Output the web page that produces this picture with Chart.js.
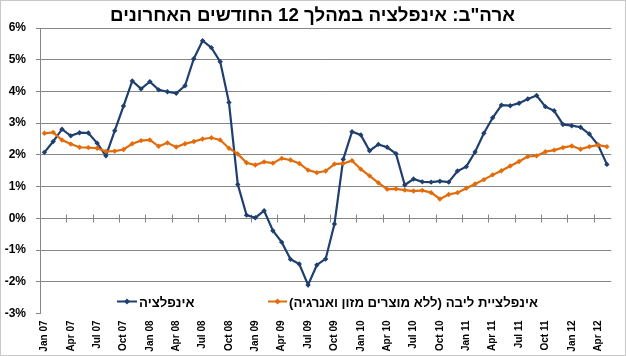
<!DOCTYPE html>
<html><head><meta charset="utf-8">
<script src="https://cdn.jsdelivr.net/npm/chart.js@4/dist/chart.umd.min.js"></script>
<style>html,body{margin:0;padding:0;background:#fff}#wrap{width:626px;height:356px}</style>
</head><body><div id="wrap"><canvas id="c" width="626" height="356"></canvas></div>
<script>
const titleText = 'ארה"ב: אינפלציה במהלך 12 החודשים האחרונים';
const headlineLabel = 'אינפלציה';
const coreLabel = 'אינפלציית ליבה (ללא מוצרים מזון ואנרגיה)';

const months = [
 'Jan 07','Feb 07','Mar 07','Apr 07','May 07','Jun 07','Jul 07','Aug 07','Sep 07','Oct 07','Nov 07','Dec 07',
 'Jan 08','Feb 08','Mar 08','Apr 08','May 08','Jun 08','Jul 08','Aug 08','Sep 08','Oct 08','Nov 08','Dec 08',
 'Jan 09','Feb 09','Mar 09','Apr 09','May 09','Jun 09','Jul 09','Aug 09','Sep 09','Oct 09','Nov 09','Dec 09',
 'Jan 10','Feb 10','Mar 10','Apr 10','May 10','Jun 10','Jul 10','Aug 10','Sep 10','Oct 10','Nov 10','Dec 10',
 'Jan 11','Feb 11','Mar 11','Apr 11','May 11','Jun 11','Jul 11','Aug 11','Sep 11','Oct 11','Nov 11','Dec 11',
 'Jan 12','Feb 12','Mar 12','Apr 12','May 12'
];

const headline = [
 2.08, 2.42, 2.81, 2.60, 2.70, 2.69, 2.37, 1.97, 2.76, 3.54, 4.33, 4.08,
 4.31, 4.05, 3.99, 3.94, 4.18, 5.03, 5.60, 5.38, 4.94, 3.65, 1.07, 0.10,
 0.02, 0.24, -0.39, -0.75, -1.29, -1.44, -2.10, -1.47, -1.28, -0.18, 1.86, 2.73,
 2.63, 2.13, 2.33, 2.24, 2.04, 1.05, 1.24, 1.15, 1.14, 1.17, 1.14, 1.49,
 1.63, 2.09, 2.68, 3.17, 3.57, 3.55, 3.63, 3.76, 3.87, 3.52, 3.39, 2.96,
 2.92, 2.87, 2.66, 2.31, 1.70
];

const core = [
 2.68, 2.71, 2.47, 2.34, 2.24, 2.23, 2.21, 2.11, 2.12, 2.17, 2.35, 2.45,
 2.47, 2.27, 2.38, 2.25, 2.35, 2.42, 2.50, 2.54, 2.47, 2.21, 2.03, 1.75,
 1.68, 1.78, 1.74, 1.89, 1.84, 1.73, 1.52, 1.44, 1.49, 1.71, 1.73, 1.82,
 1.55, 1.34, 1.12, 0.92, 0.93, 0.89, 0.86, 0.88, 0.81, 0.61, 0.75, 0.81,
 0.95, 1.08, 1.22, 1.37, 1.50, 1.65, 1.79, 1.95, 1.97, 2.10, 2.15, 2.23,
 2.28, 2.18, 2.26, 2.31, 2.26
];

const yTicks = [-3, -2, -1, 0, 1, 2, 3, 4, 5, 6];

const BLUE = '#1f3f6e';
const ORANGE = '#e36c0a';
const GRID = '#868686';
const FONT = '"Liberation Sans", Arial, sans-serif';

function diamond(ctx, x, y, r, color) {
  ctx.beginPath();
  ctx.moveTo(x, y - r); ctx.lineTo(x + r, y); ctx.lineTo(x, y + r); ctx.lineTo(x - r, y);
  ctx.closePath(); ctx.fillStyle = color; ctx.fill();
}

const deco = {
  id: 'deco',
  beforeDraw(chart) {
    const ctx = chart.ctx;
    ctx.save(); ctx.fillStyle = '#fff'; ctx.fillRect(0, 0, chart.width, chart.height); ctx.restore();
  },
  beforeDatasetsDraw(chart) {
    const ctx = chart.ctx, xs = chart.scales.x, ys = chart.scales.y;
    const y0 = Math.round(ys.getPixelForValue(0)) + 0.5;
    ctx.save();
    ctx.strokeStyle = GRID; ctx.lineWidth = 1;
    ctx.beginPath();
    for (let i = 3; i < months.length; i += 3) {
      const x = Math.round((xs.getPixelForValue(i - 1) + xs.getPixelForValue(i)) / 2) + 0.5;
      ctx.moveTo(x, y0 - 4); ctx.lineTo(x, y0 + 4);
    }
    ctx.stroke();
    ctx.restore();
  },
  afterDraw(chart) {
    const ctx = chart.ctx;
    ctx.save();
    // title
    ctx.direction = 'rtl';
    ctx.fillStyle = '#000';
    ctx.font = 'bold 18.7px ' + FONT;
    ctx.textAlign = 'center';
    ctx.textBaseline = 'alphabetic';
    ctx.fillText(titleText, 312.5, 20.5);
    // legend
    ctx.font = 'bold 13.2px ' + FONT;
    ctx.textAlign = 'left';
    const items = [
      { text: headlineLabel, color: BLUE, x0: 117, x1: 137, tx: 139 },
      { text: coreLabel, color: ORANGE, x0: 268, x1: 287, tx: 289 }
    ];
    const ly = 301.5;
    items.forEach(it => {
      ctx.strokeStyle = it.color; ctx.lineWidth = 2;
      ctx.beginPath(); ctx.moveTo(it.x0, ly); ctx.lineTo(it.x1, ly); ctx.stroke();
      diamond(ctx, (it.x0 + it.x1) / 2, ly, 3, it.color);
      ctx.fillStyle = '#000';
      ctx.fillText(it.text, it.tx, ly + 5);
    });
    // outer border
    ctx.strokeStyle = '#c8c8c8'; ctx.lineWidth = 1;
    ctx.strokeRect(0.5, 0.5, chart.width - 1, chart.height - 1);
    ctx.restore();
  }
};

new Chart(document.getElementById('c'), {
  type: 'line',
  data: {
    labels: months,
    datasets: [
      { label: coreLabel, data: core, borderColor: ORANGE, backgroundColor: ORANGE, borderWidth: 2.2,
        pointStyle: 'rectRot', pointRadius: 2.7, pointBorderWidth: 0, tension: 0 },
      { label: headlineLabel, data: headline, borderColor: BLUE, backgroundColor: BLUE, borderWidth: 2.2,
        pointStyle: 'rectRot', pointRadius: 2.7, pointBorderWidth: 0, tension: 0 }
    ]
  },
  options: {
    responsive: false,
    animation: false,
    devicePixelRatio: 1,
    events: [],
    layout: { padding: { left: 0, right: 12, top: 28, bottom: 0 } },
    plugins: { legend: { display: false }, title: { display: false }, tooltip: { enabled: false } },
    scales: {
      x: {
        type: 'category',
        offset: true,
        grid: { display: false, drawTicks: false },
        border: { display: false },
        ticks: {
          autoSkip: false, minRotation: 90, maxRotation: 90, padding: 7,
          color: '#000', font: { family: FONT, size: 10, weight: 'bold' },
          callback: function (v, i) { return i % 3 === 0 ? months[i] : ''; }
        },
        afterFit(s) { s.height = 42.5; }
      },
      y: {
        min: yTicks[0], max: yTicks[yTicks.length - 1],
        afterBuildTicks(s) { s.ticks = yTicks.map(v => ({ value: v })); },
        grid: {
          color: ctx => (ctx.tick && ctx.tick.value === yTicks[0]) ? 'rgba(0,0,0,0)' : GRID,
          tickColor: GRID, tickLength: 4, lineWidth: 1
        },
        border: { display: true, color: GRID, width: 1 },
        ticks: {
          padding: 10, color: '#000', font: { family: FONT, size: 12, weight: 'bold' },
          callback: v => v + '%'
        },
        afterFit(s) { s.width = 40; }
      }
    }
  },
  plugins: [deco]
});
</script>
</body></html>
